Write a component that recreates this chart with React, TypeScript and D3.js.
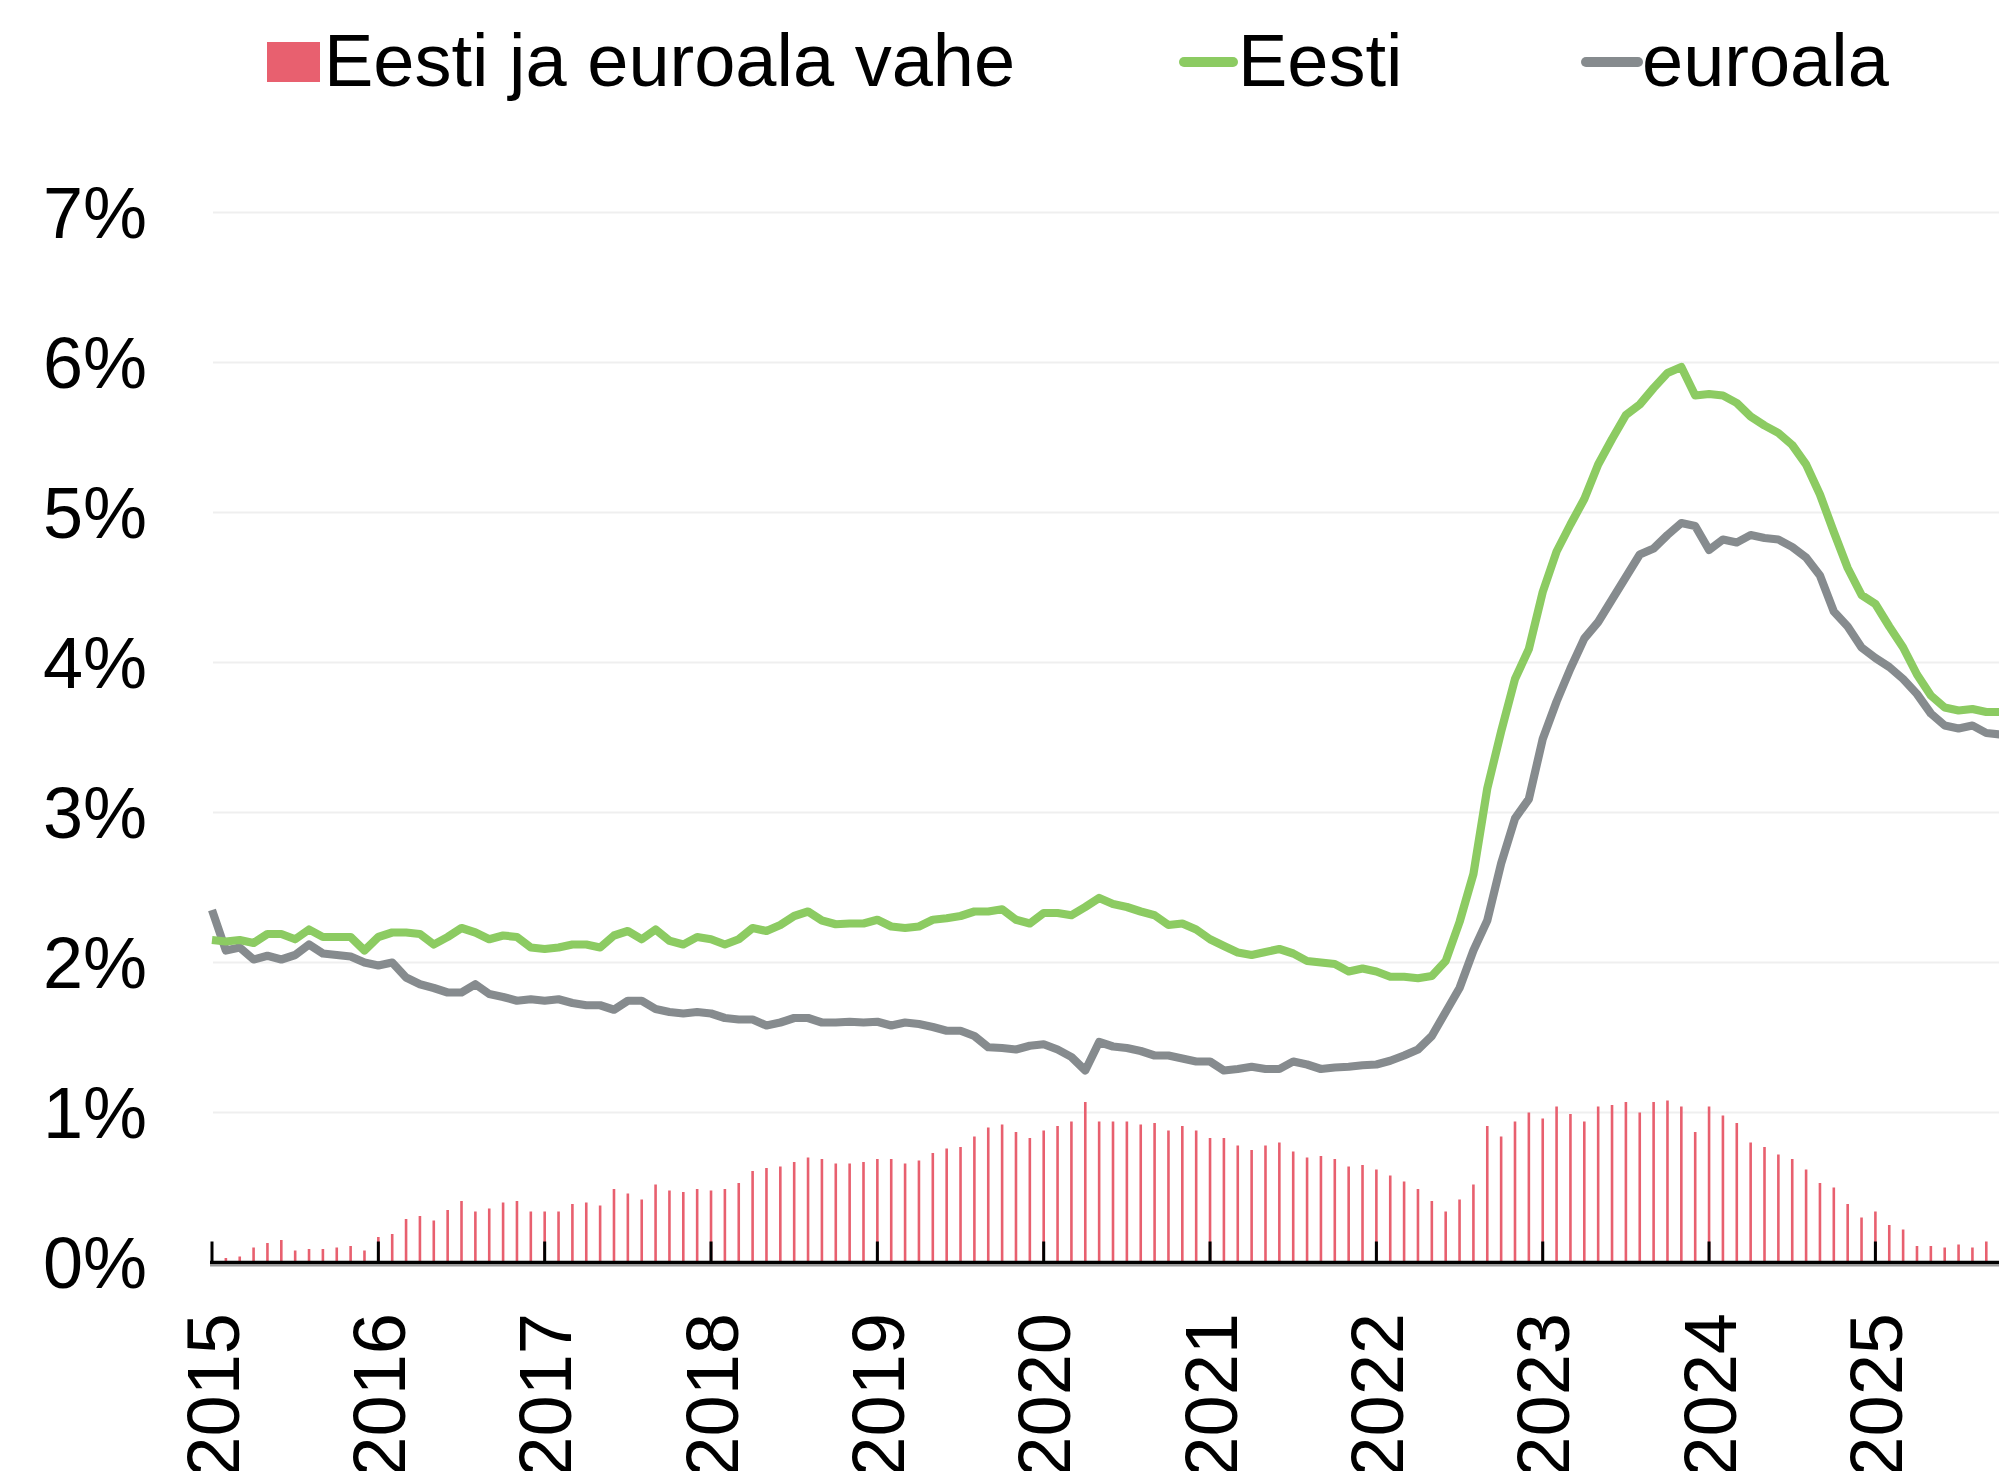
import React, { useEffect, useRef } from 'react';
import * as d3 from 'd3';

// kuud alates jaanuarist 2015 (indeks 0)
const years = ['2015', '2016', '2017', '2018', '2019', '2020', '2021', '2022', '2023', '2024', '2025'];
const yTicks = [0, 1, 2, 3, 4, 5, 6, 7];

const eesti = [
  2.15, 2.14, 2.15, 2.13, 2.19, 2.19, 2.155, 2.22, 2.17, 2.17, 2.17, 2.08,
  2.17, 2.2, 2.2, 2.19, 2.12, 2.17, 2.23, 2.2, 2.155, 2.18, 2.17, 2.1,
  2.09, 2.1, 2.12, 2.12, 2.1, 2.18, 2.21, 2.155, 2.22, 2.145, 2.12, 2.17,
  2.155, 2.12, 2.155, 2.23, 2.21, 2.25, 2.31, 2.34, 2.28, 2.255, 2.26, 2.26,
  2.285, 2.24, 2.23, 2.24, 2.285, 2.295, 2.31, 2.34, 2.34, 2.355, 2.285, 2.26,
  2.33, 2.33, 2.315, 2.37, 2.43, 2.39, 2.37, 2.34, 2.315, 2.25, 2.26, 2.22,
  2.155, 2.11, 2.067, 2.05, 2.07, 2.09, 2.06, 2.01, 2.0, 1.99, 1.94, 1.96,
  1.94, 1.905, 1.905, 1.895, 1.91, 2.01, 2.27, 2.59, 3.16, 3.54, 3.89, 4.09,
  4.47, 4.74, 4.92, 5.09, 5.32, 5.49, 5.65, 5.72, 5.83, 5.93, 5.97, 5.78,
  5.79, 5.78, 5.73, 5.64, 5.58, 5.53, 5.45, 5.32, 5.12, 4.87, 4.63, 4.45,
  4.39, 4.24, 4.1, 3.92, 3.78, 3.7, 3.68, 3.69, 3.67, 3.67
];

const euroala = [
  2.35, 2.08, 2.1, 2.02, 2.045, 2.02, 2.05, 2.12, 2.06, 2.05, 2.04, 2.0,
  1.98, 2.0, 1.9, 1.855, 1.83, 1.8, 1.8, 1.855, 1.79, 1.77, 1.745, 1.755,
  1.745, 1.755, 1.73, 1.715, 1.715, 1.685, 1.745, 1.745, 1.69, 1.67, 1.66, 1.67,
  1.66, 1.63, 1.62, 1.62, 1.58, 1.6, 1.63, 1.63, 1.6, 1.6, 1.605, 1.6,
  1.605, 1.58, 1.6, 1.59, 1.57, 1.545, 1.545, 1.51, 1.435, 1.43, 1.42, 1.445,
  1.455, 1.42, 1.37, 1.28, 1.47, 1.44, 1.43, 1.41, 1.38, 1.38, 1.36, 1.34,
  1.34, 1.28, 1.29, 1.305, 1.29, 1.29, 1.34, 1.32, 1.29, 1.3, 1.305, 1.315,
  1.32, 1.345, 1.38, 1.42, 1.51, 1.67, 1.83, 2.08, 2.28, 2.66, 2.96, 3.09,
  3.49, 3.74, 3.96, 4.16, 4.27, 4.42, 4.57, 4.72, 4.76, 4.85, 4.93, 4.91,
  4.75, 4.82, 4.8, 4.85, 4.83, 4.82, 4.77, 4.7, 4.58, 4.34, 4.24, 4.1,
  4.03, 3.97, 3.89, 3.79, 3.66, 3.58, 3.56, 3.58, 3.53, 3.52
];

// Eesti ja euroala vahe (protsendipunktid)
const vahe = [
  0.01, 0.03, 0.04, 0.1, 0.13, 0.15, 0.08, 0.09, 0.09, 0.1, 0.11, 0.08,
  0.17, 0.19, 0.29, 0.31, 0.28, 0.35, 0.41, 0.34, 0.36, 0.4, 0.41, 0.34,
  0.34, 0.34, 0.39, 0.4, 0.38, 0.49, 0.46, 0.42, 0.52, 0.48, 0.47, 0.49,
  0.48, 0.49, 0.53, 0.61, 0.63, 0.64, 0.67, 0.7, 0.69, 0.66, 0.66, 0.67,
  0.69, 0.69, 0.66, 0.68, 0.73, 0.76, 0.77, 0.84, 0.9, 0.92, 0.87, 0.83,
  0.88, 0.91, 0.94, 1.07, 0.94, 0.94, 0.94, 0.92, 0.93, 0.88, 0.91, 0.88,
  0.83, 0.83, 0.78, 0.75, 0.78, 0.8, 0.74, 0.7, 0.71, 0.69, 0.64, 0.65,
  0.62, 0.58, 0.54, 0.49, 0.41, 0.34, 0.42, 0.52, 0.91, 0.84, 0.94, 1.0,
  0.96, 1.04, 0.99, 0.94, 1.04, 1.05, 1.07, 1.0, 1.07, 1.08, 1.04, 0.87,
  1.04, 0.98, 0.93, 0.8, 0.77, 0.72, 0.69, 0.62, 0.53, 0.5, 0.39, 0.3,
  0.34, 0.25, 0.22, 0.11, 0.11, 0.1, 0.12, 0.1, 0.14
];

const legendNames = ['Eesti ja euroala vahe', 'Eesti', 'euroala'];
const colors = { bar: '#e8606f', eesti: '#8ccb62', euroala: '#868b8e' };

export default function App() {
  const ref = useRef<SVGSVGElement>(null);

  useEffect(() => {
    const width = 1999;
    const height = 1471;
    const font = '"Liberation Sans", Arial, Helvetica, sans-serif';

    const svg = d3.select(ref.current);
    svg.selectAll('*').remove();
    svg.attr('width', width).attr('height', height);

    const x = d3.scaleLinear().domain([0, 120]).range([212, 1875.4]);
    const y = d3.scaleLinear().domain([0, 7]).range([1262.5, 212.5]);

    // ruudustik
    svg.append('g')
      .selectAll('line')
      .data(yTicks.filter(d => d > 0))
      .enter()
      .append('line')
      .attr('x1', 213).attr('x2', width)
      .attr('y1', d => y(d)).attr('y2', d => y(d))
      .attr('stroke', '#efefef')
      .attr('stroke-width', 2);

    // y-telje sildid
    svg.append('g')
      .selectAll('text')
      .data(yTicks)
      .enter()
      .append('text')
      .attr('x', 147)
      .attr('y', d => y(d))
      .attr('dy', '0.36em')
      .attr('text-anchor', 'end')
      .attr('font-family', font)
      .attr('font-size', 72)
      .attr('fill', '#000')
      .text(d => d + '%');

    // vahe tulbad
    svg.append('g')
      .selectAll('rect')
      .data(vahe)
      .enter()
      .append('rect')
      .attr('x', (d, i) => x(i) - 1.3)
      .attr('width', 2.6)
      .attr('y', d => y(Math.max(0, d)))
      .attr('height', d => Math.abs(y(d) - y(0)))
      .attr('fill', colors.bar);

    // jooned
    const line = d3.line<number>()
      .x((d, i) => x(i))
      .y(d => y(d));

    svg.append('path')
      .datum(euroala)
      .attr('d', line)
      .attr('fill', 'none')
      .attr('stroke', colors.euroala)
      .attr('stroke-width', 8.2)
      .attr('stroke-linejoin', 'round');

    svg.append('path')
      .datum(eesti)
      .attr('d', line)
      .attr('fill', 'none')
      .attr('stroke', colors.eesti)
      .attr('stroke-width', 8.2)
      .attr('stroke-linejoin', 'round');

    // x-telg
    svg.append('line')
      .attr('x1', 210).attr('x2', width)
      .attr('y1', y(0) + 3).attr('y2', y(0) + 3)
      .attr('stroke', '#9a9a9a')
      .attr('stroke-width', 2);
    svg.append('line')
      .attr('x1', 210).attr('x2', width)
      .attr('y1', y(0)).attr('y2', y(0))
      .attr('stroke', '#000')
      .attr('stroke-width', 3.5);

    const yearIdx = years.map((d, i) => i * 12);
    svg.append('g')
      .selectAll('line')
      .data(yearIdx)
      .enter()
      .append('line')
      .attr('x1', d => x(d)).attr('x2', d => x(d))
      .attr('y1', y(0)).attr('y2', y(0) - 21)
      .attr('stroke', '#000')
      .attr('stroke-width', 3);

    svg.append('g')
      .selectAll('text')
      .data(years)
      .enter()
      .append('text')
      .attr('transform', (d, i) => `translate(${x(i * 12)},1313) rotate(-90)`)
      .attr('text-anchor', 'end')
      .attr('dy', '0.36em')
      .attr('font-family', font)
      .attr('font-size', 74)
      .attr('fill', '#000')
      .text(d => d);

    // legend
    const lg = svg.append('g').attr('font-family', font).attr('font-size', 74).attr('fill', '#000');
    lg.append('rect')
      .attr('x', 267).attr('y', 42).attr('width', 53).attr('height', 40)
      .attr('fill', colors.bar);
    lg.append('text').attr('x', 324).attr('y', 86).text(legendNames[0]);

    lg.append('line')
      .attr('x1', 1184).attr('x2', 1233).attr('y1', 62).attr('y2', 62)
      .attr('stroke', colors.eesti).attr('stroke-width', 10).attr('stroke-linecap', 'round');
    lg.append('text').attr('x', 1238).attr('y', 86).text(legendNames[1]);

    lg.append('line')
      .attr('x1', 1586).attr('x2', 1638).attr('y1', 62).attr('y2', 62)
      .attr('stroke', colors.euroala).attr('stroke-width', 10).attr('stroke-linecap', 'round');
    lg.append('text').attr('x', 1642).attr('y', 86).text(legendNames[2]);
  }, []);

  return (
    <div>
      <style>{'body{margin:0;overflow:hidden}'}</style>
      <svg ref={ref} style={{ display: 'block', background: '#fff' }} />
    </div>
  );
}
